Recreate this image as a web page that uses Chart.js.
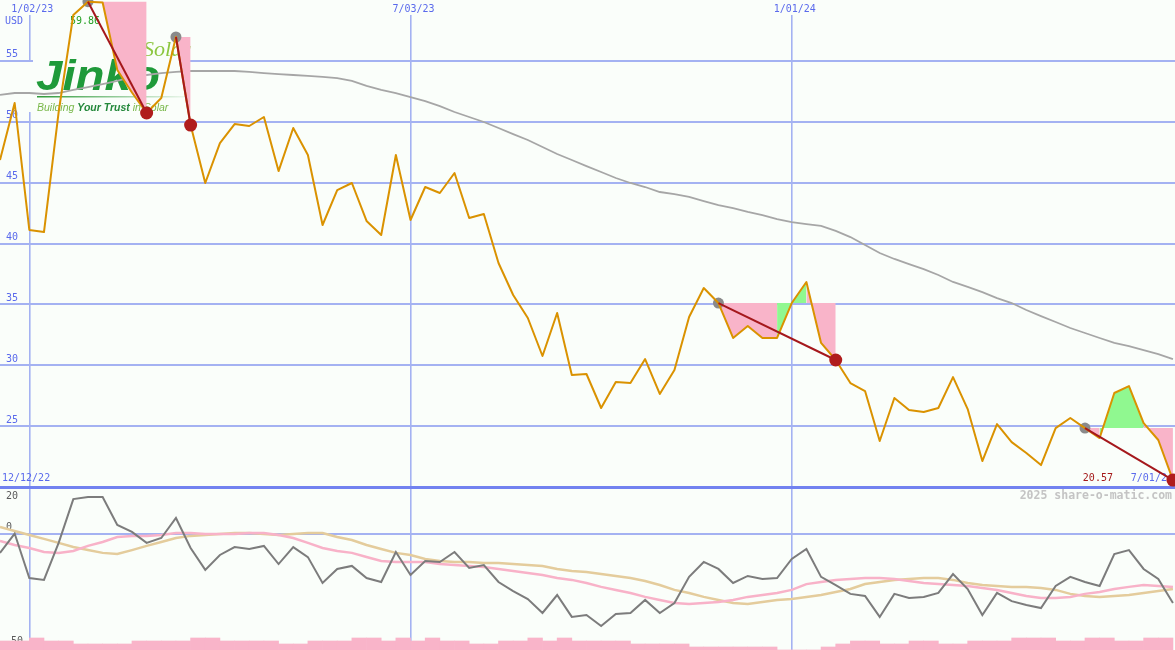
<!DOCTYPE html>
<html>
<head>
<meta charset="utf-8">
<script src="https://cdn.jsdelivr.net/npm/chart.js@4.4.1/dist/chart.umd.min.js"></script>
<style>
html,body{margin:0;padding:0;background:#fafefa;overflow:hidden;}
#wrap{width:1175px;height:650px;position:relative;}
</style>
</head>
<body>
<div id="wrap"><canvas id="c"></canvas></div>
<script>
// ---------- DATA (weekly, index 0 = first week shown) ----------
const price = [46.86, 51.54, 41.11, 40.94, 50.80, 58.77, 59.86, 59.80, 54.25, 52.40,
  50.72, 51.95, 56.96, 49.73, 44.97, 48.25, 49.81, 49.65, 50.39, 45.95,
  49.49, 47.27, 41.52, 44.39, 44.97, 41.85, 40.70, 47.27, 41.93, 44.64,
  44.15, 45.79, 42.09, 42.42, 38.40, 35.77, 33.88, 30.76, 34.29, 29.20,
  29.28, 26.49, 28.62, 28.54, 30.51, 27.64, 29.61, 33.96, 36.34, 35.11,
  32.24, 33.22, 32.24, 32.24, 35.11, 36.84, 31.83, 30.43, 28.54, 27.88,
  23.78, 27.31, 26.32, 26.16, 26.49, 29.03, 26.40, 22.13, 25.17, 23.69,
  22.79, 21.80, 24.84, 25.67, 24.84, 24.02, 27.72, 28.29, 25.25, 23.86,
  20.57];
const movingAvg = [52.20, 52.36, 52.36, 52.28, 52.36, 52.61, 52.85, 53.10, 53.35, 53.68,
  53.84, 54.00, 54.09, 54.17, 54.17, 54.17, 54.17, 54.09, 54.00, 53.92,
  53.84, 53.76, 53.68, 53.59, 53.35, 52.94, 52.61, 52.36, 52.03, 51.70,
  51.29, 50.80, 50.39, 49.98, 49.49, 48.99, 48.50, 47.93, 47.35, 46.86,
  46.36, 45.87, 45.38, 44.97, 44.64, 44.23, 44.06, 43.82, 43.49, 43.16,
  42.91, 42.59, 42.34, 42.01, 41.76, 41.60, 41.44, 41.03, 40.53, 39.88,
  39.22, 38.73, 38.31, 37.90, 37.41, 36.84, 36.43, 36.01, 35.52, 35.11,
  34.54, 34.04, 33.55, 33.06, 32.65, 32.24, 31.83, 31.58, 31.25, 30.92,
  30.51];
const oscillator = [-8.3, 0.0, -19.1, -19.9, -4.0, 14.8, 15.7, 15.7, 3.7, 0.7,
  -4.0, -1.9, 6.7, -6.2, -15.6, -9.2, -5.8, -6.6, -5.3, -13.1,
  -5.8, -10.1, -21.2, -15.2, -13.9, -19.1, -20.8, -7.9, -17.8, -11.8,
  -12.2, -7.9, -14.8, -13.5, -20.8, -24.7, -28.1, -34.1, -26.4, -35.8,
  -35.0, -39.7, -34.5, -34.1, -28.5, -34.1, -29.8, -18.6, -12.2, -15.2,
  -21.2, -18.2, -19.5, -19.1, -10.9, -6.6, -18.6, -22.1, -25.9, -26.8,
  -35.8, -25.9, -27.7, -27.2, -25.5, -17.4, -23.8, -35.0, -25.5, -29.0,
  -30.7, -32.0, -22.5, -18.6, -20.8, -22.5, -8.8, -7.1, -15.2, -19.5,
  -29.8];
const signalPink = [-3.2, -4.9, -6.2, -7.9, -8.3, -7.5, -5.3, -3.6, -1.5, -1.0,
  -1.0, -0.6, 0.2, 0.2, -0.2, -0.2, -0.2, 0.2, 0.2, -0.6,
  -1.9, -4.0, -6.2, -7.5, -8.3, -10.1, -11.8, -12.2, -12.2, -12.2,
  -13.1, -13.5, -13.9, -14.4, -15.2, -16.1, -16.9, -17.8, -19.1, -19.9,
  -21.2, -22.9, -24.2, -25.5, -27.2, -28.5, -29.8, -30.2, -29.8, -29.4,
  -28.5, -27.2, -26.4, -25.5, -24.2, -21.7, -20.8, -19.9, -19.5, -19.1,
  -19.1, -19.5, -20.4, -21.2, -21.7, -22.1, -22.5, -23.4, -24.2, -25.5,
  -26.8, -27.7, -27.7, -27.2, -25.9, -25.1, -23.8, -22.9, -22.1, -22.5,
  -22.9];
const signalTan = [2.8, 1.1, -0.6, -2.3, -4.0, -5.8, -7.1, -8.3, -8.8, -7.1,
  -5.3, -3.6, -1.9, -1.0, -0.6, -0.2, 0.2, 0.2, -0.2, -0.6,
  -0.2, 0.2, 0.2, -1.5, -2.8, -4.9, -6.6, -8.3, -9.2, -10.9,
  -11.8, -12.2, -12.2, -12.6, -12.6, -13.1, -13.5, -13.9, -15.2, -16.1,
  -16.5, -17.4, -18.2, -19.1, -20.4, -22.1, -24.2, -25.5, -27.2, -28.5,
  -29.8, -30.2, -29.4, -28.5, -28.1, -27.2, -26.4, -25.1, -23.8, -21.7,
  -20.8, -19.9, -19.5, -19.1, -19.1, -19.9, -21.2, -22.1, -22.5, -22.9,
  -22.9, -23.4, -24.2, -25.9, -26.8, -27.2, -26.8, -26.4, -25.5, -24.7,
  -23.8];
const volume = [3, 3, 4, 3, 3, 2, 2, 2, 2, 3,
  3, 3, 3, 4, 4, 3, 3, 3, 3, 2,
  2, 3, 3, 3, 4, 4, 3, 4, 3, 4,
  3, 3, 2, 2, 3, 3, 4, 3, 4, 3,
  3, 3, 3, 2, 2, 2, 2, 1, 1, 1,
  1, 1, 1, 0, 0, 0, 1, 2, 3, 3,
  2, 2, 3, 3, 2, 2, 3, 3, 3, 4,
  4, 4, 3, 3, 4, 4, 3, 3, 4, 4];

const priceTicks = [20, 25, 30, 35, 40, 45, 50, 55];
const indicatorTicks = [20, 0, -50];
const indicatorGrid = [0];
const gridDates = ['1/02/23', '7/03/23', '1/01/24'];
const gridDateWeeks = [2, 28, 54];
const rangeDates = ['12/12/22', '7/01/24'];
const currency = 'USD';
const trendStarts = [6, 12, 49, 74];
const trendEnds = [10, 13, 57, 80];
const fillFrom = [6, 12, 49, 53, 55, 74, 75, 78];
const fillTo = [10, 13, 53, 55, 57, 75, 78, 80];
const fillTrend = [0, 1, 2, 2, 2, 3, 3, 3];
const fillUp = [false, false, false, true, false, false, true, false];
const maxLabel = '59.86';
const lastLabel = '20.57';
const watermark = '2025 share-o-matic.com';

// ---------- STYLE ----------
const BG = '#fafefa';
const GRID = '#a4b2f2';
const GRID_DARK = '#7282f0';
const LABEL_BLUE = '#5a6aec';
const PINK = '#f9b4c9';
const GREEN = '#90f890';
const MONO = '"DejaVu Sans Mono", monospace';

const pts = arr => arr.map((v, i) => ({x: i, y: v}));
const seg = (arr, a, b) => arr.slice(a, b + 1).map((v, k) => ({x: a + k, y: v}));

const datasets = [];
datasets.push({type: 'line', label: 'trendEnd', data: trendEnds.map(i => ({x: i, y: price[i]})),
  showLine: false, pointRadius: 6.5, pointBackgroundColor: '#b01c1c', pointBorderWidth: 0, yAxisID: 'y', order: 0});
trendStarts.forEach((s, k) => {
  const e = trendEnds[k];
  datasets.push({type: 'line', label: 'trend' + k, data: [{x: s, y: price[s]}, {x: e, y: price[e]}],
    borderColor: '#a5181c', borderWidth: 2, pointRadius: 0, fill: false, yAxisID: 'y', order: 1});
});
datasets.push({type: 'line', label: 'price', data: pts(price), borderColor: '#da9200', borderWidth: 2,
  pointRadius: 0, tension: 0, fill: false, borderJoinStyle: 'round', yAxisID: 'y', order: 2});
datasets.push({type: 'line', label: 'trendStart', data: trendStarts.map(i => ({x: i, y: price[i]})),
  showLine: false, pointRadius: 5.5, pointBackgroundColor: '#8a8a8a', pointBorderWidth: 0, yAxisID: 'y', order: 3});
fillFrom.forEach((a, k) => {
  const level = price[trendStarts[fillTrend[k]]];
  const col = fillUp[k] ? GREEN : PINK;
  datasets.push({type: 'line', label: 'fill' + k, data: seg(price, a, fillTo[k]),
    borderWidth: 0, borderColor: 'rgba(0,0,0,0)', pointRadius: 0, tension: 0, backgroundColor: col,
    fill: {target: {value: level}, above: col, below: col}, yAxisID: 'y', order: 4});
});
datasets.push({type: 'line', label: 'ma', data: pts(movingAvg), borderColor: '#a6a6a6', borderWidth: 1.8,
  pointRadius: 0, tension: 0, fill: false, yAxisID: 'y', order: 5});
datasets.push({type: 'line', label: 'osc', data: pts(oscillator), borderColor: '#7c7c7c', borderWidth: 2,
  pointRadius: 0, tension: 0, fill: false, yAxisID: 'y2', order: 6});
datasets.push({type: 'line', label: 'sigPink', data: pts(signalPink), borderColor: '#f8b2c8', borderWidth: 2.5,
  pointRadius: 0, tension: 0, fill: false, yAxisID: 'y2', order: 7});
datasets.push({type: 'line', label: 'sigTan', data: pts(signalTan), borderColor: '#e4cc9c', borderWidth: 2.5,
  pointRadius: 0, tension: 0, fill: false, yAxisID: 'y2', order: 8});
datasets.push({type: 'bar', label: 'vol', data: volume.map((v, i) => ({x: i + 0.5, y: v})),
  backgroundColor: PINK, borderWidth: 0, barPercentage: 1, categoryPercentage: 1, yAxisID: 'yv', order: 9});

function drawLogo(c) {
  c.save();
  c.fillStyle = BG;
  c.fillRect(33, 59, 157, 57);
  c.fillRect(12, 62, 21, 50);
  c.textBaseline = 'alphabetic';
  c.textAlign = 'left';
  c.fillStyle = '#8cc63f';
  c.font = 'italic 22px "Liberation Serif"';
  c.fillText('Solar', 143, 56);
  c.save();
  c.translate(36, 90);
  c.scale(1.13, 1);
  c.fillStyle = '#1f9a3a';
  c.font = 'italic bold 42px "Liberation Sans"';
  c.fillText('Jinko', 0, 0);
  c.restore();
  const g = c.createLinearGradient(37, 0, 185, 0);
  g.addColorStop(0, '#2f9a3a');
  g.addColorStop(1, 'rgba(47,154,58,0.08)');
  c.fillStyle = g;
  c.fillRect(37, 96, 148, 1.5);
  let x = 37;
  const parts = [['Building ', '#79b84a', ''], ['Your Trust', '#23883a', 'bold '], [' in Solar', '#79b84a', '']];
  for (const [t, col, w] of parts) {
    c.font = 'italic ' + w + '10.5px "Liberation Sans"';
    c.fillStyle = col;
    c.fillText(t, x, 111);
    x += c.measureText(t).width;
  }
  c.restore();
}

const decor = {
  id: 'decor',
  beforeDraw(chart) {
    const c = chart.ctx;
    c.save();
    c.fillStyle = BG;
    c.fillRect(0, 0, chart.width, chart.height);
    c.restore();
  },
  beforeDatasetsDraw(chart) {
    const c = chart.ctx;
    const sx = chart.scales.x, sy = chart.scales.y, s2 = chart.scales.y2;
    drawLogo(c);
    c.save();
    c.font = '10px ' + MONO;
    c.textBaseline = 'middle';
    gridDates.forEach((t, k) => {
      const px = sx.getPixelForValue(gridDateWeeks[k]) + 3;
      const w = c.measureText(t).width;
      c.fillStyle = BG;
      c.fillRect(px - w / 2 - 1, 0, w + 2, 15);
      c.fillStyle = LABEL_BLUE;
      c.textAlign = 'center';
      c.fillText(t, px, 9);
    });
    c.textAlign = 'left';
    c.fillStyle = LABEL_BLUE;
    c.fillText(currency, 5, 21);
    priceTicks.forEach(v => {
      if (v === 20) return;
      c.fillText(String(v), 6, sy.getPixelForValue(v) - 6);
    });
    const yBottom = sy.getPixelForValue(20) - 9;
    c.fillText(rangeDates[0], 2, yBottom);
    c.textAlign = 'right';
    c.fillText(rangeDates[1], sx.getPixelForValue(80), yBottom);
    c.fillStyle = '#a51a1a';
    c.fillText(lastLabel, sx.getPixelForValue(80) - 60, yBottom);
    c.textAlign = 'center';
    c.fillStyle = '#22a022';
    c.fillText(maxLabel, sx.getPixelForValue(6) - 3, 21);
    c.textAlign = 'right';
    c.fillStyle = '#c4c4c4';
    c.font = 'bold 11.5px ' + MONO;
    c.fillText(watermark, 1172, sy.getPixelForValue(20) + 9);
    c.font = '10px ' + MONO;
    c.textAlign = 'left';
    c.fillStyle = '#5a5a5a';
    const offs = [9, -6, -9];
    indicatorTicks.forEach((v, k) => {
      c.fillText(String(v), v < 0 ? 5 : 6, s2.getPixelForValue(v) + offs[k]);
    });
    c.restore();
  }
};

new Chart(document.getElementById('c'), {
  type: 'line',
  data: {datasets},
  options: {
    responsive: true,
    maintainAspectRatio: false,
    animation: false,
    events: [],
    layout: {padding: 0, autoPadding: false},
    plugins: {legend: {display: false}, tooltip: {enabled: false}, title: {display: false}},
    scales: {
      x: {type: 'linear', min: 0, max: 80.14, offset: false, position: 'top',
        border: {display: false}, ticks: {display: false},
        grid: {drawTicks: false, offset: false, color: GRID, lineWidth: 1.6},
        afterBuildTicks: s => { s.ticks = gridDateWeeks.map(v => ({value: v})); }},
      y: {type: 'linear', min: 6.612, max: 60, position: 'left',
        border: {display: false}, ticks: {display: false},
        grid: {drawTicks: false, offset: false,
          color: ctx => (ctx.tick && ctx.tick.value === 20) ? GRID_DARK : GRID,
          lineWidth: ctx => (ctx.tick && ctx.tick.value === 20) ? 3 : 2},
        afterBuildTicks: s => { s.ticks = priceTicks.map(v => ({value: v})); }},
      y2: {type: 'linear', min: -50, max: 229.1, position: 'right',
        border: {display: false}, ticks: {display: false},
        grid: {drawTicks: false, offset: false, color: GRID, lineWidth: 2},
        afterBuildTicks: s => { s.ticks = indicatorGrid.map(v => ({value: v})); }},
      yv: {type: 'linear', min: 0, max: 216.67, display: false}
    }
  },
  plugins: [decor]
});
</script>
</body>
</html>
